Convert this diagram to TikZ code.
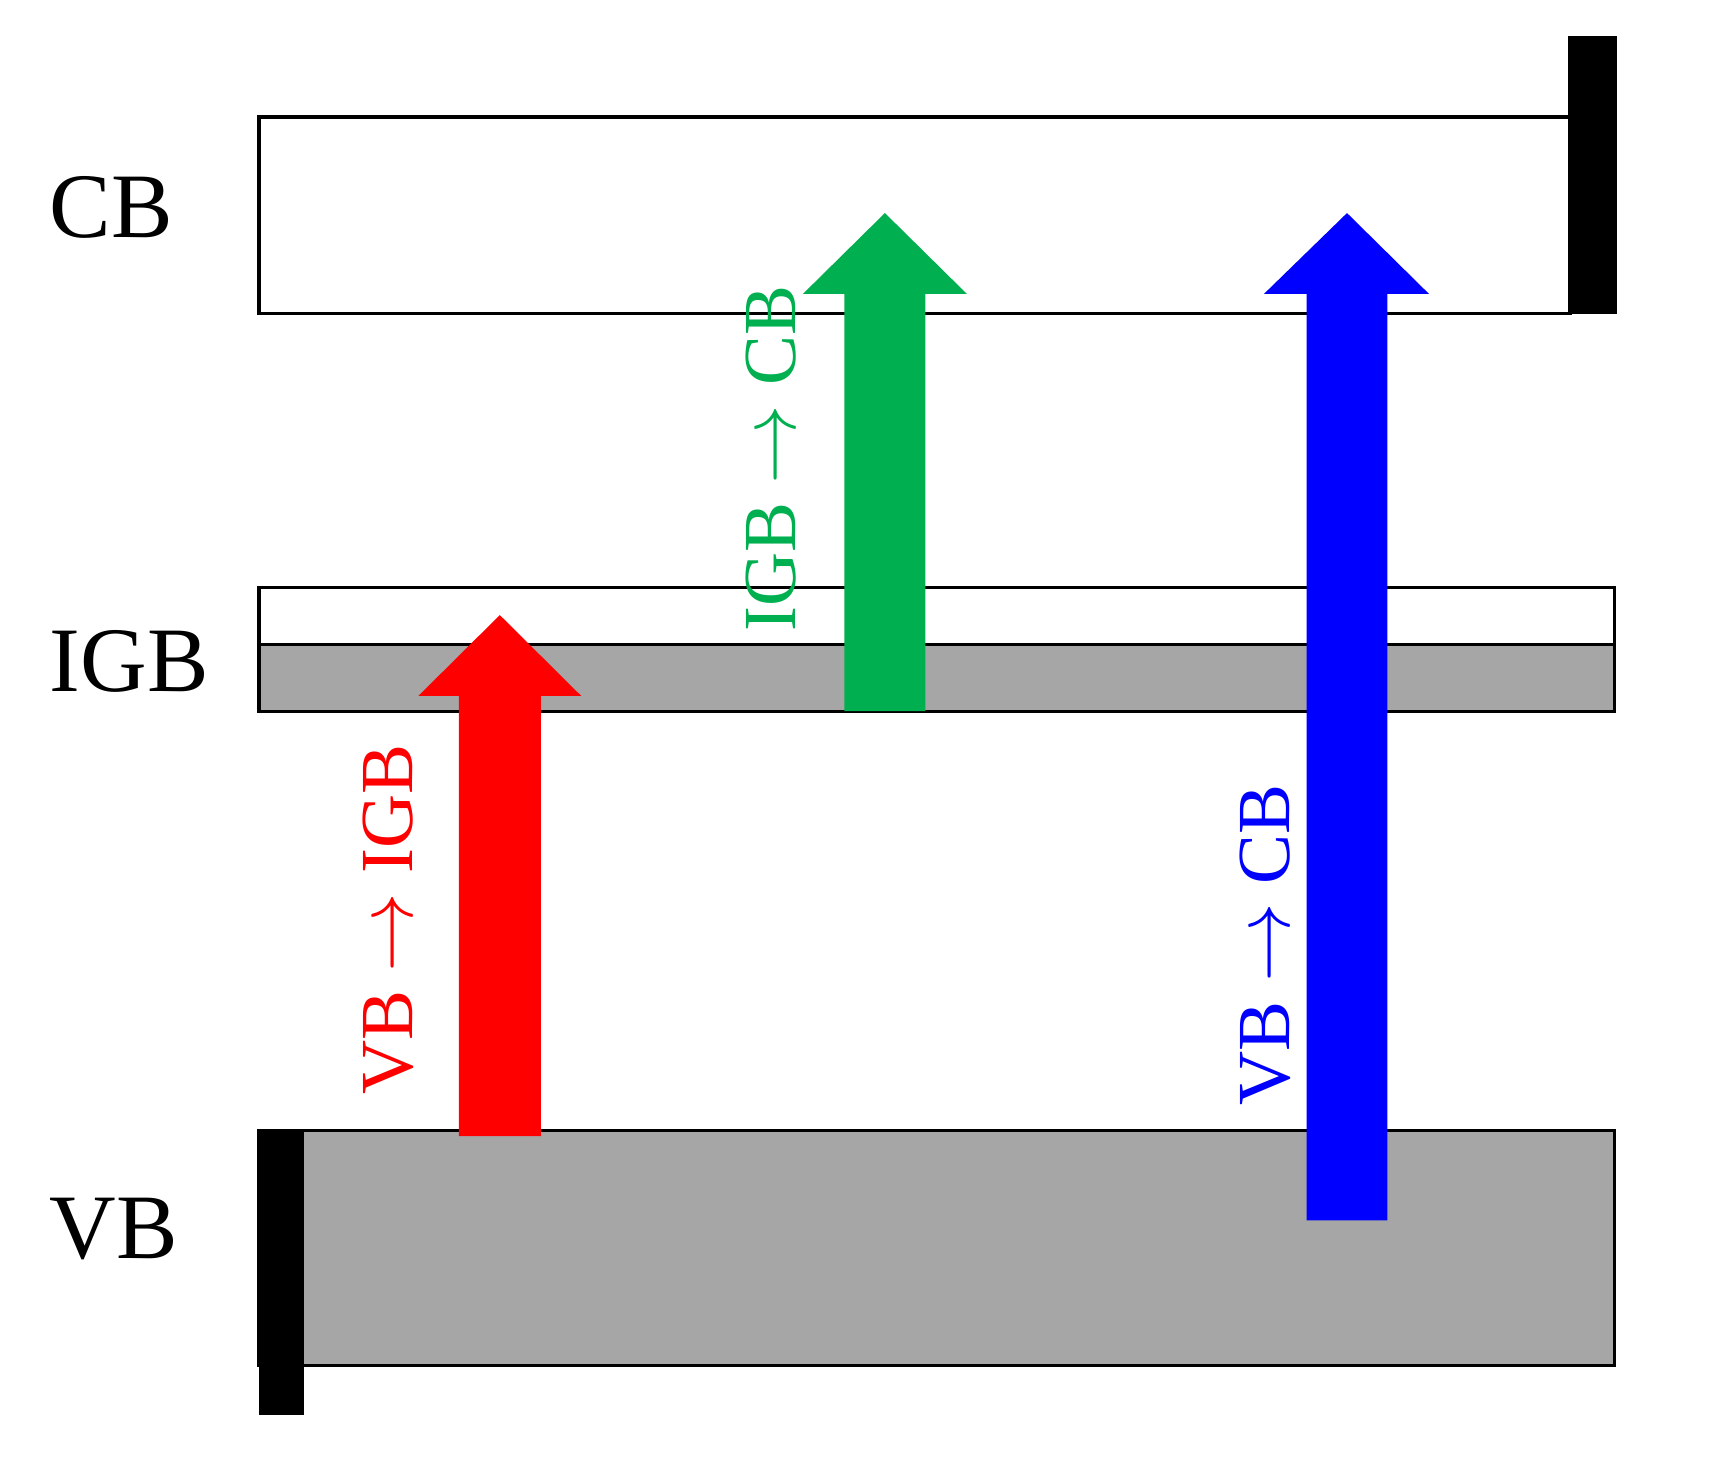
\documentclass[tikz,border=0pt]{standalone}
\usepackage{fontspec}
\setmainfont{Liberation Serif}
\definecolor{bandgray}{HTML}{A6A6A6}
\definecolor{arrgreen}{HTML}{00B050}
\definecolor{arrred}{HTML}{FF0000}
\definecolor{arrblue}{HTML}{0000FF}
\tikzset{
  band/.style={draw=black, line width=0.03cm},
  bar/.style={fill=black},
  level/.style={anchor=west, inner sep=0pt, font=\fontsize{24}{28}\selectfont},
  trans/.style={rotate=90, inner sep=0pt, font=\fontsize{19.5}{23}\selectfont},
}
\begin{document}
\begin{tikzpicture}[x=0.01cm,y=-0.01cm]
\useasboundingbox (0,0) rectangle (1568,1335);
% CB band
\draw[band, fill=white] (237,107) rectangle (1437,287);
\fill[bar] (1435,33) rectangle (1480,287);
% IGB band
\draw[band, fill=white] (237,538) rectangle (1478,590);
\draw[band, fill=bandgray] (237,590) rectangle (1478,651);
% VB band
\draw[band, fill=bandgray] (237,1035) rectangle (1478,1250);
\fill[bar] (237,1035) rectangle (278,1295);
% level labels
\node[level] (cb) at (45,190) {CB};
\node[level] (igb) at (45,605) {IGB};
\node[level] (vb) at (45,1125) {VB};
% arrows
\fill[arrred] (420,1040) -- (420,637) -- (383,637) -- (457.5,563) -- (532,637) -- (495,637) -- (495,1040) -- cycle;
\fill[arrgreen] (773,651) -- (773,269) -- (735,269) -- (810,195) -- (885,269) -- (847,269) -- (847,651) -- cycle;
\fill[arrblue] (1196,1117) -- (1196,269) -- (1157,269) -- (1233,195) -- (1308,269) -- (1270,269) -- (1270,1117) -- cycle;
% transition labels
\node[trans, text=arrred] (t1) at (355,842) {VB $\rightarrow$ IGB};
\node[trans, text=arrgreen] (t2) at (706,420) {IGB $\rightarrow$ CB};
\node[trans, text=arrblue] (t3) at (1158,865) {VB $\rightarrow$ CB};
\end{tikzpicture}
\end{document}
